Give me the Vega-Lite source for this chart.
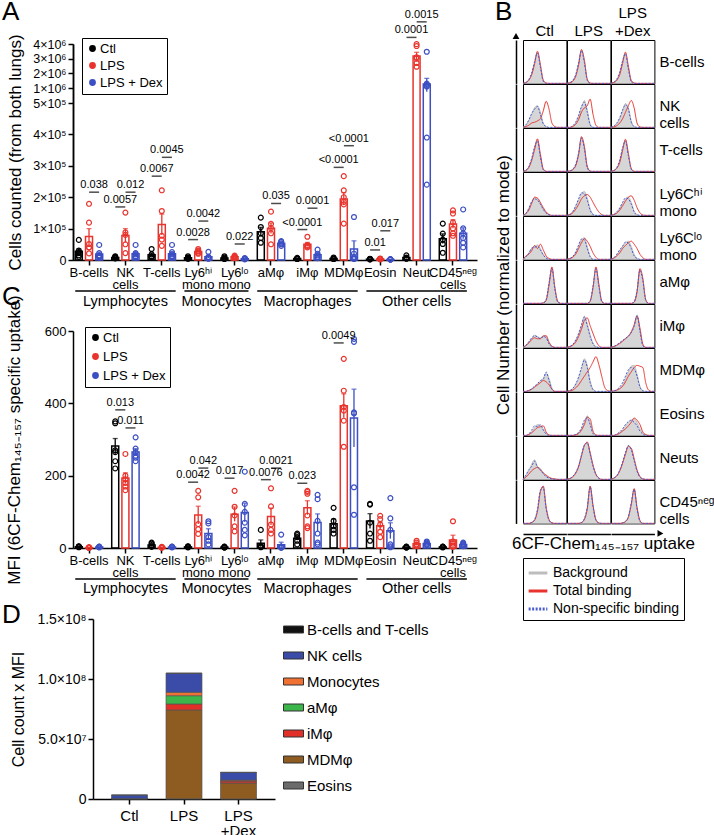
{
  "$schema": "https://vega.github.io/schema/vega-lite/v6.json",
  "padding": {"left": 2, "top": -2, "right": 0, "bottom": 0},
  "background": "white",
  "config": {
    "font": "Liberation Sans",
    "view": {"stroke": null},
    "axis": {"domainColor": "black", "domainWidth": 1.5, "tickColor": "black", "tickWidth": 1.5, "tickSize": 5, "labelColor": "black", "titleColor": "black", "grid": false, "labelFontSize": 13, "titleFontSize": 17, "titleFontWeight": "normal", "labelPadding": 2, "labelOverlap": false},
    "legend": {"labelColor": "black", "titleColor": "black"},
    "title": {"fontWeight": "normal", "fontSize": 26, "anchor": "start", "color": "black", "offset": 0},
    "header": {"labelColor": "black", "titleColor": "black", "titleFontWeight": "normal"},
    "text": {"color": "black"}
  },
  "datasets": {
    "countsA": [
      {"cell":"B-cells","grp":"Ctl","m":27700,"lo":19900,"hi":35500,"v":[64000,30000,22000,15000,10000,25000]},
      {"cell":"B-cells","grp":"LPS","m":75000,"lo":50000,"hi":100000,"v":[179000,119000,51000,40000,21000,40000]},
      {"cell":"B-cells","grp":"LPS + Dex","m":19000,"lo":13000,"hi":25000,"v":[48000,22000,15000,10000,8000,12000]},
      {"cell":"NK cells","grp":"Ctl","m":8200,"lo":6900,"hi":9500,"v":[12000,10000,8000,6000,5000]},
      {"cell":"NK cells","grp":"LPS","m":78000,"lo":56000,"hi":100000,"v":[151000,88000,80000,50000,22000]},
      {"cell":"NK cells","grp":"LPS + Dex","m":19700,"lo":13700,"hi":25700,"v":[48000,22000,18000,12000,10000,8000]},
      {"cell":"T-cells","grp":"Ctl","m":16600,"lo":11700,"hi":21500,"v":[35000,18000,12000,10000,8000]},
      {"cell":"T-cells","grp":"LPS","m":113000,"lo":80000,"hi":146000,"v":[222000,156000,77000,65000,45000]},
      {"cell":"T-cells","grp":"LPS + Dex","m":20200,"lo":14100,"hi":26300,"v":[48000,25000,18000,12000,10000,8000]},
      {"cell":"Ly6ʰⁱ mono","grp":"Ctl","m":7000,"lo":5600,"hi":8400,"v":[12000,8000,6000,5000,4000]},
      {"cell":"Ly6ʰⁱ mono","grp":"LPS","m":27000,"lo":24400,"hi":29600,"v":[35000,30000,27000,23000,20000]},
      {"cell":"Ly6ʰⁱ mono","grp":"LPS + Dex","m":10400,"lo":6400,"hi":14400,"v":[26000,10000,7000,5000,4000]},
      {"cell":"Ly6ˡᵒ mono","grp":"Ctl","m":6400,"lo":4800,"hi":8000,"v":[12000,8000,5000,4000,3000]},
      {"cell":"Ly6ˡᵒ mono","grp":"LPS","m":10000,"lo":8600,"hi":11400,"v":[14000,12000,10000,8000,6000]},
      {"cell":"Ly6ˡᵒ mono","grp":"LPS + Dex","m":4000,"lo":3300,"hi":4700,"v":[6000,5000,4000,3000,2000]},
      {"cell":"aMφ","grp":"Ctl","m":90000,"lo":76000,"hi":104000,"v":[135000,105000,85000,70000,55000]},
      {"cell":"aMφ","grp":"LPS","m":101000,"lo":84000,"hi":118000,"v":[154000,115000,102000,85000,50000]},
      {"cell":"aMφ","grp":"LPS + Dex","m":53000,"lo":50300,"hi":55700,"v":[60000,58000,53000,50000,45000]},
      {"cell":"iMφ","grp":"Ctl","m":4600,"lo":3900,"hi":5300,"v":[7000,5000,4000,4000,3000]},
      {"cell":"iMφ","grp":"LPS","m":49800,"lo":43600,"hi":56000,"v":[74000,48000,45000,42000,40000]},
      {"cell":"iMφ","grp":"LPS + Dex","m":16800,"lo":12100,"hi":21500,"v":[33000,20000,15000,10000,6000]},
      {"cell":"MDMφ","grp":"Ctl","m":4600,"lo":3700,"hi":5500,"v":[8000,5000,4000,3000,3000]},
      {"cell":"MDMφ","grp":"LPS","m":194500,"lo":174500,"hi":214500,"v":[267000,222000,200000,185000,177000,116000]},
      {"cell":"MDMφ","grp":"LPS + Dex","m":35000,"lo":9000,"hi":61000,"v":[137000,20000,10000,5000,3000]},
      {"cell":"Eosin","grp":"Ctl","m":2800,"lo":2400,"hi":3200,"v":[4000,3000,3000,2000,2000]},
      {"cell":"Eosin","grp":"LPS","m":3400,"lo":2900,"hi":3900,"v":[5000,4000,3000,3000,2000]},
      {"cell":"Eosin","grp":"LPS + Dex","m":1800,"lo":1400,"hi":2200,"v":[3000,2000,2000,1000,1000]},
      {"cell":"Neut","grp":"Ctl","m":7600,"lo":5600,"hi":9600,"v":[15000,8000,6000,5000,4000]},
      {"cell":"Neut","grp":"LPS","m":3183000,"lo":2933000,"hi":3433000,"v":[3990000,3860000,3100000,3000000,2700000,2450000]},
      {"cell":"Neut","grp":"LPS + Dex","m":1267000,"lo":877000,"hi":1657000,"v":[3470000,1300000,1220000,1150000,1100000,390000,240000]},
      {"cell":"CD45ⁿᵉᵍ cells","grp":"Ctl","m":67800,"lo":52300,"hi":83300,"v":[116000,84000,65000,51000,23000]},
      {"cell":"CD45ⁿᵉᵍ cells","grp":"LPS","m":114700,"lo":101200,"hi":128200,"v":[158000,148000,120000,100000,85000,77000]},
      {"cell":"CD45ⁿᵉᵍ cells","grp":"LPS + Dex","m":85300,"lo":67800,"hi":102800,"v":[161000,101000,85000,70000,55000,40000]}
    ],
    "annA": [
      {"cell":"B-cells","pair":"b","y":216000,"t":"0.038"},
      {"cell":"NK cells","pair":"a","y":169000,"t":"0.0057"},
      {"cell":"NK cells","pair":"b","y":216000,"t":"0.012"},
      {"cell":"T-cells","pair":"a","y":267000,"t":"0.0067"},
      {"cell":"T-cells","pair":"b","y":327000,"t":"0.0045"},
      {"cell":"Ly6ʰⁱ mono","pair":"a","y":65000,"t":"0.0028"},
      {"cell":"Ly6ʰⁱ mono","pair":"b","y":124000,"t":"0.0042"},
      {"cell":"Ly6ˡᵒ mono","pair":"b","y":51000,"t":"0.022"},
      {"cell":"aMφ","pair":"b","y":180000,"t":"0.035"},
      {"cell":"iMφ","pair":"a","y":97000,"t":"<0.0001"},
      {"cell":"iMφ","pair":"b","y":165000,"t":"0.0001"},
      {"cell":"MDMφ","pair":"a","y":295000,"t":"<0.0001"},
      {"cell":"MDMφ","pair":"b","y":364000,"t":"<0.0001"},
      {"cell":"Eosin","pair":"a","y":32000,"t":"0.01"},
      {"cell":"Eosin","pair":"b","y":93000,"t":"0.017"},
      {"cell":"Neut","pair":"a","y":4450000,"t":"0.0001"},
      {"cell":"Neut","pair":"b","y":5510000,"t":"0.0015"}
    ],
    "mfiC": [
      {"cell":"B-cells","grp":"Ctl","m":3.4,"lo":2.9,"hi":3.9,"v":[5,4,3,3,2]},
      {"cell":"B-cells","grp":"LPS","m":1.1,"lo":0.85,"hi":1.35,"v":[2,1,1,1,0.5]},
      {"cell":"B-cells","grp":"LPS + Dex","m":2.8,"lo":2.4,"hi":3.2,"v":[4,3,3,2,2]},
      {"cell":"NK cells","grp":"Ctl","m":281.7,"lo":260.7,"hi":302.7,"v":[350,345,270,265,240,220]},
      {"cell":"NK cells","grp":"LPS","m":193.3,"lo":178.7,"hi":207.9,"v":[260,200,190,180,170,160]},
      {"cell":"NK cells","grp":"LPS + Dex","m":265.2,"lo":255.6,"hi":274.8,"v":[306,275,265,255,250,240]},
      {"cell":"T-cells","grp":"Ctl","m":8.6,"lo":6.4,"hi":10.8,"v":[15,12,8,5,3]},
      {"cell":"T-cells","grp":"LPS","m":1.8,"lo":1.4,"hi":2.2,"v":[3,2,2,1,1]},
      {"cell":"T-cells","grp":"LPS + Dex","m":2.8,"lo":2.4,"hi":3.2,"v":[4,3,3,2,2]},
      {"cell":"Ly6ʰⁱ mono","grp":"Ctl","m":3.2,"lo":2.6,"hi":3.8,"v":[5,4,3,2,2]},
      {"cell":"Ly6ʰⁱ mono","grp":"LPS","m":91,"lo":66.5,"hi":115.5,"v":[158,140,66,52,39]},
      {"cell":"Ly6ʰⁱ mono","grp":"LPS + Dex","m":40.4,"lo":27.6,"hi":53.2,"v":[74,68,30,20,10]},
      {"cell":"Ly6ˡᵒ mono","grp":"Ctl","m":2.4,"lo":1.9,"hi":2.9,"v":[4,3,2,2,1]},
      {"cell":"Ly6ˡᵒ mono","grp":"LPS","m":93.6,"lo":73.6,"hi":113.6,"v":[158,114,90,60,46]},
      {"cell":"Ly6ˡᵒ mono","grp":"LPS + Dex","m":98,"lo":72,"hi":124,"v":[211,122,100,70,50,35]},
      {"cell":"aMφ","grp":"Ctl","m":13,"lo":3.7,"hi":22.3,"v":[50,6,4,3,2]},
      {"cell":"aMφ","grp":"LPS","m":87,"lo":63.5,"hi":110.5,"v":[165,115,65,50,40]},
      {"cell":"aMφ","grp":"LPS + Dex","m":9,"lo":2,"hi":16,"v":[37,4,2,1,1]},
      {"cell":"iMφ","grp":"Ctl","m":27.2,"lo":21.8,"hi":32.6,"v":[40,36,30,20,10]},
      {"cell":"iMφ","grp":"LPS","m":111.3,"lo":91.9,"hi":130.7,"v":[158,155,150,90,60,55]},
      {"cell":"iMφ","grp":"LPS + Dex","m":70.3,"lo":46.3,"hi":94.3,"v":[147,135,75,40,15,10]},
      {"cell":"MDMφ","grp":"Ctl","m":67.2,"lo":54.8,"hi":79.6,"v":[111,75,60,50,40]},
      {"cell":"MDMφ","grp":"LPS","m":393.3,"lo":360.3,"hi":426.3,"v":[523,435,390,380,352,280]},
      {"cell":"MDMφ","grp":"LPS + Dex","m":359.2,"lo":279.2,"hi":439.2,"v":[578,570,375,372,168,92]},
      {"cell":"Eosin","grp":"Ctl","m":74.4,"lo":53.8,"hi":95,"v":[122,120,70,40,20]},
      {"cell":"Eosin","grp":"LPS","m":61.8,"lo":51,"hi":72.6,"v":[89,80,65,45,30]},
      {"cell":"Eosin","grp":"LPS + Dex","m":47.8,"lo":25.9,"hi":69.7,"v":[138,82,50,10,5,2]},
      {"cell":"Neut","grp":"Ctl","m":2.4,"lo":1.9,"hi":2.9,"v":[4,3,2,2,1]},
      {"cell":"Neut","grp":"LPS","m":11.6,"lo":8.9,"hi":14.3,"v":[20,15,10,8,5]},
      {"cell":"Neut","grp":"LPS + Dex","m":12.6,"lo":10.8,"hi":14.4,"v":[18,15,12,10,8]},
      {"cell":"CD45ⁿᵉᵍ cells","grp":"Ctl","m":2.8,"lo":2.4,"hi":3.2,"v":[4,3,3,2,2]},
      {"cell":"CD45ⁿᵉᵍ cells","grp":"LPS","m":22.4,"lo":9.4,"hi":35.4,"v":[74,18,12,5,3]},
      {"cell":"CD45ⁿᵉᵍ cells","grp":"LPS + Dex","m":10,"lo":8.3,"hi":11.7,"v":[15,12,10,8,5]}
    ],
    "annC": [
      {"cell":"NK cells","pair":"a","y":382,"t":"0.013"},
      {"cell":"NK cells","pair":"b","y":332,"t":"0.011"},
      {"cell":"Ly6ʰⁱ mono","pair":"a","y":182,"t":"0.0042"},
      {"cell":"Ly6ʰⁱ mono","pair":"b","y":221,"t":"0.042"},
      {"cell":"Ly6ˡᵒ mono","pair":"a","y":193,"t":"0.017"},
      {"cell":"aMφ","pair":"a","y":189,"t":"0.0076"},
      {"cell":"aMφ","pair":"b","y":221,"t":"0.0021"},
      {"cell":"iMφ","pair":"a","y":179,"t":"0.023"},
      {"cell":"MDMφ","pair":"a","y":567,"t":"0.0049"}
    ],
    "groups": [
      {"g":"Lymphocytes","a":0,"b":2},
      {"g":"Monocytes","a":3,"b":4},
      {"g":"Macrophages","a":5,"b":7},
      {"g":"Other cells","a":8,"b":10}
    ],
    "stackD": [
      {"cond":"Ctl","cell":"Eosins","val":100000},
      {"cond":"Ctl","cell":"MDMφ","val":200000},
      {"cond":"Ctl","cell":"iMφ","val":50000},
      {"cond":"Ctl","cell":"aMφ","val":100000},
      {"cond":"Ctl","cell":"Monocytes","val":50000},
      {"cond":"Ctl","cell":"NK cells","val":2800000},
      {"cond":"Ctl","cell":"B-cells and T-cells","val":30000},
      {"cond":"LPS","cell":"Eosins","val":200000},
      {"cond":"LPS","cell":"MDMφ","val":74000000},
      {"cond":"LPS","cell":"iMφ","val":5000000},
      {"cond":"LPS","cell":"aMφ","val":6900000},
      {"cond":"LPS","cell":"Monocytes","val":2800000},
      {"cond":"LPS","cell":"NK cells","val":15800000},
      {"cond":"LPS","cell":"B-cells and T-cells","val":300000},
      {"cond":"LPS +Dex","cell":"Eosins","val":100000},
      {"cond":"LPS +Dex","cell":"MDMφ","val":13200000},
      {"cond":"LPS +Dex","cell":"iMφ","val":1700000},
      {"cond":"LPS +Dex","cell":"aMφ","val":300000},
      {"cond":"LPS +Dex","cell":"Monocytes","val":500000},
      {"cond":"LPS +Dex","cell":"NK cells","val":6300000},
      {"cond":"LPS +Dex","cell":"B-cells and T-cells","val":200000}
    ],
    "hist": [
      {"r":"B-cells","c":"Ctl","x":[0,1,2,3,4,5,6,7,8,9,10,11,12,13,14,15],"Background":[0,0.02,0.08,0.22,0.48,0.72,0.4,0.06,0,0,0,0,0,0,0,0],"Total binding":[0,0.02,0.07,0.2,0.45,0.74,0.44,0.08,0.01,0,0,0,0,0,0,0],"Non-specific binding":[0,0.02,0.09,0.24,0.5,0.7,0.38,0.05,0,0,0,0,0,0,0,0]},
      {"r":"B-cells","c":"LPS","x":[0,1,2,3,4,5,6,7,8,9,10,11,12,13,14,15],"Background":[0,0.02,0.06,0.18,0.45,0.76,0.5,0.08,0,0,0,0,0,0,0,0],"Total binding":[0,0.01,0.05,0.16,0.42,0.78,0.54,0.1,0.01,0,0,0,0,0,0,0],"Non-specific binding":[0,0.02,0.07,0.2,0.47,0.75,0.48,0.07,0,0,0,0,0,0,0,0]},
      {"r":"B-cells","c":"LPS +Dex","x":[0,1,2,3,4,5,6,7,8,9,10,11,12,13,14,15],"Background":[0,0.02,0.08,0.24,0.5,0.7,0.35,0.05,0,0,0,0,0,0,0,0],"Total binding":[0,0.02,0.07,0.2,0.46,0.72,0.4,0.07,0.01,0,0,0,0,0,0,0],"Non-specific binding":[0,0.03,0.1,0.26,0.52,0.68,0.33,0.04,0,0,0,0,0,0,0,0]},
      {"r":"NK cells","c":"Ctl","x":[0,1,2,3,4,5,6,7,8,9,10,11,12,13,14,15],"Background":[0,0.05,0.15,0.3,0.45,0.5,0.35,0.1,0.02,0,0,0,0,0,0,0],"Total binding":[0,0.02,0.05,0.1,0.12,0.15,0.2,0.38,0.6,0.42,0.1,0.02,0,0,0,0],"Non-specific binding":[0,0.06,0.17,0.32,0.42,0.48,0.3,0.08,0.02,0,0,0,0,0,0,0]},
      {"r":"NK cells","c":"LPS","x":[0,1,2,3,4,5,6,7,8,9,10,11,12,13,14,15],"Background":[0,0,0.03,0.1,0.25,0.45,0.62,0.4,0.08,0,0,0,0,0,0,0],"Total binding":[0,0,0.02,0.07,0.18,0.35,0.45,0.5,0.65,0.3,0.05,0,0,0,0,0],"Non-specific binding":[0,0,0.04,0.12,0.28,0.48,0.58,0.35,0.06,0,0,0,0,0,0,0]},
      {"r":"NK cells","c":"LPS +Dex","x":[0,1,2,3,4,5,6,7,8,9,10,11,12,13,14,15],"Background":[0,0.02,0.08,0.2,0.38,0.55,0.45,0.15,0.02,0,0,0,0,0,0,0],"Total binding":[0,0.01,0.04,0.1,0.2,0.35,0.5,0.62,0.45,0.1,0.01,0,0,0,0,0],"Non-specific binding":[0,0.03,0.1,0.22,0.4,0.52,0.42,0.12,0.02,0,0,0,0,0,0,0]},
      {"r":"T-cells","c":"Ctl","x":[0,1,2,3,4,5,6,7,8,9,10,11,12,13,14,15],"Background":[0,0.02,0.1,0.28,0.55,0.72,0.35,0.04,0,0,0,0,0,0,0,0],"Total binding":[0,0.02,0.09,0.25,0.5,0.75,0.4,0.06,0,0,0,0,0,0,0,0],"Non-specific binding":[0,0.03,0.11,0.3,0.56,0.7,0.33,0.04,0,0,0,0,0,0,0,0]},
      {"r":"T-cells","c":"LPS","x":[0,1,2,3,4,5,6,7,8,9,10,11,12,13,14,15],"Background":[0,0.01,0.05,0.15,0.4,0.78,0.55,0.1,0,0,0,0,0,0,0,0],"Total binding":[0,0.01,0.04,0.13,0.38,0.8,0.58,0.12,0.01,0,0,0,0,0,0,0],"Non-specific binding":[0,0.01,0.05,0.16,0.42,0.77,0.52,0.09,0,0,0,0,0,0,0,0]},
      {"r":"T-cells","c":"LPS +Dex","x":[0,1,2,3,4,5,6,7,8,9,10,11,12,13,14,15],"Background":[0,0.02,0.08,0.24,0.52,0.72,0.38,0.05,0,0,0,0,0,0,0,0],"Total binding":[0,0.02,0.07,0.2,0.48,0.74,0.42,0.07,0,0,0,0,0,0,0,0],"Non-specific binding":[0,0.02,0.09,0.26,0.54,0.7,0.36,0.05,0,0,0,0,0,0,0,0]},
      {"r":"Ly6Cʰⁱ mono","c":"Ctl","x":[0,1,2,3,4,5,6,7,8,9,10,11,12,13,14,15],"Background":[0,0.05,0.15,0.3,0.4,0.38,0.28,0.15,0.06,0.02,0,0,0,0,0,0],"Total binding":[0,0.04,0.12,0.28,0.42,0.4,0.3,0.18,0.08,0.02,0,0,0,0,0,0],"Non-specific binding":[0,0.05,0.16,0.32,0.38,0.35,0.26,0.14,0.05,0.01,0,0,0,0,0,0]},
      {"r":"Ly6Cʰⁱ mono","c":"LPS","x":[0,1,2,3,4,5,6,7,8,9,10,11,12,13,14,15],"Background":[0,0.02,0.08,0.2,0.35,0.5,0.55,0.4,0.15,0.03,0,0,0,0,0,0],"Total binding":[0,0.02,0.06,0.14,0.25,0.38,0.45,0.48,0.42,0.3,0.18,0.08,0.02,0,0,0],"Non-specific binding":[0,0.02,0.09,0.22,0.38,0.52,0.5,0.35,0.12,0.02,0,0,0,0,0,0]},
      {"r":"Ly6Cʰⁱ mono","c":"LPS +Dex","x":[0,1,2,3,4,5,6,7,8,9,10,11,12,13,14,15],"Background":[0,0.02,0.07,0.15,0.28,0.38,0.42,0.3,0.1,0.02,0,0,0,0,0,0],"Total binding":[0,0.02,0.05,0.12,0.22,0.33,0.42,0.45,0.35,0.18,0.06,0.01,0,0,0,0],"Non-specific binding":[0,0.02,0.08,0.17,0.3,0.4,0.38,0.26,0.08,0.01,0,0,0,0,0,0]},
      {"r":"Ly6Cˡᵒ mono","c":"Ctl","x":[0,1,2,3,4,5,6,7,8,9,10,11,12,13,14,15],"Background":[0,0.05,0.15,0.25,0.3,0.33,0.25,0.12,0.04,0,0,0,0,0,0,0],"Total binding":[0,0.08,0.12,0.2,0.32,0.25,0.35,0.22,0.08,0.02,0,0,0,0,0,0],"Non-specific binding":[0,0.06,0.14,0.26,0.28,0.3,0.22,0.1,0.03,0,0,0,0,0,0,0]},
      {"r":"Ly6Cˡᵒ mono","c":"LPS","x":[0,1,2,3,4,5,6,7,8,9,10,11,12,13,14,15],"Background":[0,0.02,0.06,0.15,0.3,0.45,0.5,0.3,0.08,0.01,0,0,0,0,0,0],"Total binding":[0,0.02,0.05,0.12,0.25,0.38,0.48,0.42,0.3,0.15,0.05,0,0,0,0,0],"Non-specific binding":[0,0.02,0.07,0.17,0.33,0.47,0.45,0.25,0.06,0,0,0,0,0,0,0]},
      {"r":"Ly6Cˡᵒ mono","c":"LPS +Dex","x":[0,1,2,3,4,5,6,7,8,9,10,11,12,13,14,15],"Background":[0,0.03,0.1,0.2,0.3,0.38,0.42,0.3,0.12,0.03,0,0,0,0,0,0],"Total binding":[0,0.03,0.08,0.15,0.25,0.32,0.38,0.42,0.35,0.25,0.12,0.04,0,0,0,0],"Non-specific binding":[0,0.04,0.12,0.22,0.3,0.4,0.38,0.25,0.08,0.02,0,0,0,0,0,0]},
      {"r":"aMφ","c":"Ctl","x":[0,1,2,3,4,5,6,7,8,9,10,11,12,13,14,15],"Background":[0,0,0,0,0,0,0,0.01,0.08,0.45,0.82,0.35,0.04,0,0,0],"Total binding":[0,0,0,0,0,0,0,0.01,0.07,0.42,0.84,0.38,0.05,0,0,0],"Non-specific binding":[0,0,0,0,0,0,0,0.01,0.09,0.47,0.8,0.33,0.03,0,0,0]},
      {"r":"aMφ","c":"LPS","x":[0,1,2,3,4,5,6,7,8,9,10,11,12,13,14,15],"Background":[0,0,0,0,0,0,0,0,0.05,0.38,0.82,0.42,0.05,0,0,0],"Total binding":[0,0,0,0,0,0,0,0,0.05,0.36,0.84,0.45,0.06,0,0,0],"Non-specific binding":[0,0,0,0,0,0,0,0,0.06,0.4,0.8,0.4,0.04,0,0,0]},
      {"r":"aMφ","c":"LPS +Dex","x":[0,1,2,3,4,5,6,7,8,9,10,11,12,13,14,15],"Background":[0,0,0,0,0,0,0,0,0.03,0.28,0.78,0.55,0.08,0,0,0],"Total binding":[0,0,0,0,0,0,0,0,0.03,0.26,0.8,0.58,0.09,0,0,0],"Non-specific binding":[0,0,0,0,0,0,0,0,0.04,0.3,0.76,0.52,0.07,0,0,0]},
      {"r":"iMφ","c":"Ctl","x":[0,1,2,3,4,5,6,7,8,9,10,11,12,13,14,15],"Background":[0,0.05,0.12,0.2,0.28,0.25,0.22,0.27,0.25,0.1,0.02,0,0,0,0,0],"Total binding":[0,0.04,0.1,0.18,0.22,0.2,0.2,0.26,0.27,0.12,0.03,0,0,0,0,0],"Non-specific binding":[0,0.05,0.13,0.22,0.27,0.24,0.2,0.25,0.22,0.08,0.01,0,0,0,0,0]},
      {"r":"iMφ","c":"LPS","x":[0,1,2,3,4,5,6,7,8,9,10,11,12,13,14,15],"Background":[0,0.02,0.06,0.15,0.3,0.5,0.72,0.55,0.3,0.1,0.02,0,0,0,0,0],"Total binding":[0,0.02,0.05,0.12,0.25,0.42,0.62,0.68,0.5,0.32,0.15,0.04,0,0,0,0],"Non-specific binding":[0,0.02,0.07,0.17,0.32,0.52,0.7,0.5,0.25,0.08,0.01,0,0,0,0,0]},
      {"r":"iMφ","c":"LPS +Dex","x":[0,1,2,3,4,5,6,7,8,9,10,11,12,13,14,15],"Background":[0,0.02,0.05,0.1,0.15,0.2,0.25,0.35,0.5,0.75,0.4,0.05,0,0,0,0],"Total binding":[0,0.02,0.05,0.09,0.14,0.2,0.26,0.36,0.52,0.72,0.45,0.08,0,0,0,0],"Non-specific binding":[0,0.02,0.06,0.11,0.16,0.21,0.26,0.34,0.48,0.73,0.38,0.04,0,0,0,0]},
      {"r":"MDMφ","c":"Ctl","x":[0,1,2,3,4,5,6,7,8,9,10,11,12,13,14,15],"Background":[0,0,0.02,0.05,0.1,0.15,0.22,0.3,0.42,0.3,0.08,0,0,0,0,0],"Total binding":[0,0,0.02,0.05,0.1,0.15,0.2,0.25,0.22,0.15,0.05,0,0,0,0,0],"Non-specific binding":[0,0,0.02,0.06,0.12,0.18,0.25,0.28,0.45,0.25,0.05,0,0,0,0,0]},
      {"r":"MDMφ","c":"LPS","x":[0,1,2,3,4,5,6,7,8,9,10,11,12,13,14,15],"Background":[0,0.02,0.06,0.15,0.3,0.5,0.75,0.6,0.25,0.05,0,0,0,0,0,0],"Total binding":[0,0.01,0.03,0.08,0.15,0.25,0.35,0.45,0.55,0.68,0.8,0.62,0.35,0.1,0.02,0],"Non-specific binding":[0,0.02,0.07,0.17,0.33,0.55,0.72,0.55,0.2,0.04,0,0,0,0,0,0]},
      {"r":"MDMφ","c":"LPS +Dex","x":[0,1,2,3,4,5,6,7,8,9,10,11,12,13,14,15],"Background":[0,0.01,0.03,0.08,0.15,0.3,0.45,0.58,0.6,0.4,0.12,0.02,0,0,0,0],"Total binding":[0,0.01,0.03,0.06,0.12,0.22,0.35,0.45,0.55,0.6,0.58,0.55,0.2,0.03,0,0],"Non-specific binding":[0,0.01,0.04,0.1,0.2,0.35,0.5,0.55,0.52,0.35,0.1,0.01,0,0,0,0]},
      {"r":"Eosins","c":"Ctl","x":[0,1,2,3,4,5,6,7,8,9,10,11,12,13,14,15],"Background":[0,0,0.02,0.08,0.18,0.25,0.22,0.15,0.05,0,0,0,0,0,0,0],"Total binding":[0,0,0.02,0.06,0.12,0.18,0.2,0.22,0.08,0.01,0,0,0,0,0,0],"Non-specific binding":[0,0,0.03,0.12,0.22,0.2,0.25,0.12,0.03,0,0,0,0,0,0,0]},
      {"r":"Eosins","c":"LPS","x":[0,1,2,3,4,5,6,7,8,9,10,11,12,13,14,15],"Background":[0,0,0,0.02,0.06,0.15,0.3,0.45,0.3,0.05,0,0,0,0,0,0],"Total binding":[0,0,0,0.01,0.04,0.12,0.25,0.42,0.38,0.1,0.01,0,0,0,0,0],"Non-specific binding":[0,0,0,0.02,0.07,0.17,0.35,0.4,0.25,0.04,0,0,0,0,0,0]},
      {"r":"Eosins","c":"LPS +Dex","x":[0,1,2,3,4,5,6,7,8,9,10,11,12,13,14,15],"Background":[0,0,0.02,0.06,0.12,0.22,0.3,0.35,0.38,0.3,0.15,0.05,0.01,0,0,0],"Total binding":[0,0,0.02,0.05,0.1,0.15,0.22,0.3,0.4,0.35,0.25,0.08,0.02,0,0,0],"Non-specific binding":[0,0,0.03,0.08,0.15,0.25,0.32,0.35,0.3,0.22,0.1,0.03,0,0,0,0]},
      {"r":"Neuts","c":"Ctl","x":[0,1,2,3,4,5,6,7,8,9,10,11,12,13,14,15],"Background":[0,0.08,0.2,0.35,0.45,0.3,0.25,0.15,0.08,0.05,0.02,0.01,0,0,0,0],"Total binding":[0,0.05,0.12,0.2,0.25,0.28,0.22,0.15,0.1,0.05,0.02,0.01,0,0,0,0],"Non-specific binding":[0,0.1,0.22,0.3,0.42,0.28,0.22,0.13,0.06,0.03,0.01,0,0,0,0,0]},
      {"r":"Neuts","c":"LPS","x":[0,1,2,3,4,5,6,7,8,9,10,11,12,13,14,15],"Background":[0,0.02,0.06,0.15,0.3,0.55,0.78,0.85,0.6,0.32,0.12,0.03,0,0,0,0],"Total binding":[0,0.02,0.06,0.14,0.29,0.54,0.78,0.86,0.62,0.33,0.12,0.03,0,0,0,0],"Non-specific binding":[0,0.02,0.07,0.16,0.31,0.56,0.79,0.84,0.58,0.3,0.11,0.03,0,0,0,0]},
      {"r":"Neuts","c":"LPS +Dex","x":[0,1,2,3,4,5,6,7,8,9,10,11,12,13,14,15],"Background":[0,0.03,0.08,0.2,0.38,0.6,0.78,0.7,0.45,0.2,0.06,0.01,0,0,0,0],"Total binding":[0,0.03,0.08,0.19,0.37,0.58,0.76,0.72,0.48,0.22,0.07,0.01,0,0,0,0],"Non-specific binding":[0,0.03,0.09,0.21,0.4,0.62,0.78,0.68,0.43,0.19,0.05,0.01,0,0,0,0]},
      {"r":"CD45ⁿᵉᵍ cells","c":"Ctl","x":[0,1,2,3,4,5,6,7,8,9,10,11,12,13,14,15],"Background":[0,0,0,0.02,0.08,0.3,0.75,0.85,0.35,0.08,0.01,0,0,0,0,0],"Total binding":[0,0,0,0.02,0.07,0.28,0.72,0.86,0.38,0.09,0.01,0,0,0,0,0],"Non-specific binding":[0,0,0,0.02,0.09,0.32,0.76,0.83,0.33,0.07,0.01,0,0,0,0,0]},
      {"r":"CD45ⁿᵉᵍ cells","c":"LPS","x":[0,1,2,3,4,5,6,7,8,9,10,11,12,13,14,15],"Background":[0,0,0,0,0,0.02,0.1,0.35,0.85,0.4,0.08,0.01,0,0,0,0],"Total binding":[0,0,0,0,0,0.02,0.09,0.33,0.86,0.42,0.09,0.01,0,0,0,0],"Non-specific binding":[0,0,0,0,0,0.02,0.11,0.37,0.84,0.38,0.07,0.01,0,0,0,0]},
      {"r":"CD45ⁿᵉᵍ cells","c":"LPS +Dex","x":[0,1,2,3,4,5,6,7,8,9,10,11,12,13,14,15],"Background":[0,0,0,0,0.01,0.04,0.15,0.45,0.8,0.35,0.06,0,0,0,0,0],"Total binding":[0,0,0,0,0.01,0.04,0.14,0.43,0.8,0.37,0.07,0,0,0,0,0],"Non-specific binding":[0,0,0,0,0.01,0.05,0.16,0.47,0.78,0.33,0.05,0,0,0,0,0]}
    ]
  },
  "concat": [
    {
      "vconcat": [
        {
          "title": {"text": "A", "dx": -71, "dy": 20, "frame": "group"},
          "width": 404,
          "height": 220,
          "layer": [
            {
              "layer": [
                {
                  "data": {"name": "countsA"},
                  "mark": {"type": "bar", "filled": false, "strokeWidth": 1.5, "width": 7},
                  "encoding": {
                    "x": {"field": "cell", "type": "nominal", "scale": {"domain": ["B-cells","NK cells","T-cells","Ly6ʰⁱ mono","Ly6ˡᵒ mono","aMφ","iMφ","MDMφ","Eosin","Neut","CD45ⁿᵉᵍ cells"], "paddingInner": 0.3, "paddingOuter": 0.2, "align": 0.225}, "axis": {"title": null, "labelAngle": 0, "labelExpr": "split(datum.label, ' ')", "labelFontSize": 13, "labelLineHeight": 12, "labelBaseline": "top", "labelPadding": 1}},
                    "xOffset": {"field": "grp", "type": "nominal", "scale": {"domain": ["Ctl","a","LPS","b","LPS + Dex"], "paddingInner": 0, "paddingOuter": 0}},
                    "y": {"field": "m", "type": "quantitative", "scale": {"domain": [0, 500000, 1000000, 4000000], "range": [220, 63, 48, 4], "nice": false, "zero": false}, "axis": {"orient": "left", "title": "Cells counted (from both lungs)", "values": [0,100000,200000,300000,400000,500000], "labelExpr": "datum.value == 0 ? '0' : (datum.value/100000) + '×10⁵'", "labelFontSize": 12.5, "titlePadding": 8, "labelFlush": false, "labelOverlap": false}},
                    "color": {"field": "grp", "type": "nominal", "scale": {"domain": ["Ctl","LPS","LPS + Dex"], "range": ["#000000","#e8342d","#3c4fc3"]}}
                  }
                },
                {
                  "data": {"name": "countsA"},
                  "mark": {"type": "rule", "strokeWidth": 1.3},
                  "encoding": {
                    "x": {"field": "cell", "type": "nominal"},
                    "xOffset": {"field": "grp", "type": "nominal"},
                    "y": {"field": "lo", "type": "quantitative"},
                    "y2": {"field": "hi"},
                    "color": {"field": "grp", "type": "nominal"}
                  }
                },
                {
                  "data": {"name": "countsA"},
                  "mark": {"type": "tick", "thickness": 1.3, "size": 5},
                  "encoding": {
                    "x": {"field": "cell", "type": "nominal"},
                    "xOffset": {"field": "grp", "type": "nominal"},
                    "y": {"field": "hi", "type": "quantitative"},
                    "color": {"field": "grp", "type": "nominal"}
                  }
                },
                {
                  "data": {"name": "countsA"},
                  "transform": [{"flatten": ["v"]}],
                  "mark": {"type": "point", "filled": false, "size": 24, "strokeWidth": 1.2, "opacity": 1},
                  "encoding": {
                    "x": {"field": "cell", "type": "nominal"},
                    "xOffset": {"field": "grp", "type": "nominal"},
                    "y": {"field": "v", "type": "quantitative"},
                    "color": {"field": "grp", "type": "nominal", "legend": {"title": null, "orient": "none", "legendX": 9, "legendY": -2, "strokeColor": "black", "padding": 4, "labelFontSize": 13, "symbolType": "circle", "symbolSize": 28, "symbolStrokeWidth": 1.5, "symbolFillColor": "white", "rowPadding": 3, "labelOffset": 1}}
                  }
                },
                {
                  "data": {"name": "annA"},
                  "mark": {"type": "tick", "thickness": 1.5, "size": 10, "color": "black"},
                  "encoding": {
                    "x": {"field": "cell", "type": "nominal"},
                    "xOffset": {"field": "pair", "type": "nominal"},
                    "y": {"field": "y", "type": "quantitative"}
                  }
                },
                {
                  "data": {"name": "annA"},
                  "mark": {"type": "text", "fontSize": 11, "baseline": "bottom", "dy": -2},
                  "encoding": {
                    "x": {"field": "cell", "type": "nominal"},
                    "xOffset": {"field": "pair", "type": "nominal"},
                    "y": {"field": "y", "type": "quantitative"},
                    "text": {"field": "t"}
                  }
                }
              ]
            },
            {
              "data": {"name": "groups"},
              "transform": [
                {"calculate": "datum.a - 0.38", "as": "x1"},
                {"calculate": "datum.b + 0.38", "as": "x2"},
                {"calculate": "(datum.a + datum.b) / 2", "as": "xm"}
              ],
              "layer": [
                {
                  "mark": {"type": "rule", "strokeWidth": 1.5, "yOffset": 31},
                  "encoding": {
                    "x": {"field": "x1", "type": "quantitative", "scale": {"domain": [-0.441, 10.658], "nice": false, "zero": false}, "axis": null},
                    "x2": {"field": "x2"},
                    "y": {"datum": 0, "type": "quantitative", "scale": {"domain": [0, 500000, 1000000, 4000000], "range": [220, 63, 48, 4], "nice": false, "zero": false}, "axis": {"orient": "left", "title": null, "values": [1000000,2000000,3000000,4000000], "labelExpr": "(datum.value/1000000) + '×10⁶'", "labelFontSize": 12.5, "labelFlush": false, "labelOverlap": false}}
                  }
                },
                {
                  "mark": {"type": "text", "fontSize": 14.5, "yOffset": 42, "baseline": "middle"},
                  "encoding": {
                    "x": {"field": "xm", "type": "quantitative"},
                    "y": {"datum": 0, "type": "quantitative"},
                    "text": {"field": "g"}
                  }
                }
              ]
            }
          ],
          "resolve": {"scale": {"x": "independent", "y": "independent"}, "axis": {"y": "independent"}}
        },
        {
          "title": {"text": "C", "dx": -71, "dy": 19, "frame": "group"},
          "width": 404,
          "height": 217,
          "layer": [
            {
              "layer": [
                {
                  "data": {"name": "mfiC"},
                  "mark": {"type": "bar", "filled": false, "strokeWidth": 1.5, "width": 7},
                  "encoding": {
                    "x": {"field": "cell", "type": "nominal", "scale": {"domain": ["B-cells","NK cells","T-cells","Ly6ʰⁱ mono","Ly6ˡᵒ mono","aMφ","iMφ","MDMφ","Eosin","Neut","CD45ⁿᵉᵍ cells"], "paddingInner": 0.3, "paddingOuter": 0.2, "align": 0.225}, "axis": {"title": null, "labelAngle": 0, "labelExpr": "split(datum.label, ' ')", "labelFontSize": 13, "labelLineHeight": 12, "labelBaseline": "top", "labelPadding": 1}},
                    "xOffset": {"field": "grp", "type": "nominal", "scale": {"domain": ["Ctl","a","LPS","b","LPS + Dex"], "paddingInner": 0, "paddingOuter": 0}},
                    "y": {"field": "m", "type": "quantitative", "scale": {"domain": [0, 600], "nice": false}, "axis": {"title": "MFI (6CF-Chem₁₄₅₋₁₅₇ specific uptake)", "values": [0,200,400,600], "titlePadding": 21, "labelFlush": false}},
                    "color": {"field": "grp", "type": "nominal", "scale": {"domain": ["Ctl","LPS","LPS + Dex"], "range": ["#000000","#e8342d","#3c4fc3"]}}
                  }
                },
                {
                  "data": {"name": "mfiC"},
                  "mark": {"type": "rule", "strokeWidth": 1.3},
                  "encoding": {
                    "x": {"field": "cell", "type": "nominal"},
                    "xOffset": {"field": "grp", "type": "nominal"},
                    "y": {"field": "lo", "type": "quantitative"},
                    "y2": {"field": "hi"},
                    "color": {"field": "grp", "type": "nominal"}
                  }
                },
                {
                  "data": {"name": "mfiC"},
                  "mark": {"type": "tick", "thickness": 1.3, "size": 5},
                  "encoding": {
                    "x": {"field": "cell", "type": "nominal"},
                    "xOffset": {"field": "grp", "type": "nominal"},
                    "y": {"field": "hi", "type": "quantitative"},
                    "color": {"field": "grp", "type": "nominal"}
                  }
                },
                {
                  "data": {"name": "mfiC"},
                  "transform": [{"flatten": ["v"]}],
                  "mark": {"type": "point", "filled": false, "size": 24, "strokeWidth": 1.2, "opacity": 1},
                  "encoding": {
                    "x": {"field": "cell", "type": "nominal"},
                    "xOffset": {"field": "grp", "type": "nominal"},
                    "y": {"field": "v", "type": "quantitative"},
                    "color": {"field": "grp", "type": "nominal", "legend": {"title": null, "orient": "none", "legendX": 12, "legendY": -4, "strokeColor": "black", "padding": 4, "labelFontSize": 13, "symbolType": "circle", "symbolSize": 28, "symbolStrokeWidth": 1.5, "symbolFillColor": "white", "rowPadding": 5, "labelOffset": 1}}
                  }
                },
                {
                  "data": {"name": "annC"},
                  "mark": {"type": "tick", "thickness": 1.5, "size": 10, "color": "black"},
                  "encoding": {
                    "x": {"field": "cell", "type": "nominal"},
                    "xOffset": {"field": "pair", "type": "nominal"},
                    "y": {"field": "y", "type": "quantitative"}
                  }
                },
                {
                  "data": {"name": "annC"},
                  "mark": {"type": "text", "fontSize": 11, "baseline": "bottom", "dy": -2},
                  "encoding": {
                    "x": {"field": "cell", "type": "nominal"},
                    "xOffset": {"field": "pair", "type": "nominal"},
                    "y": {"field": "y", "type": "quantitative"},
                    "text": {"field": "t"}
                  }
                }
              ]
            },
            {
              "data": {"name": "groups"},
              "transform": [
                {"calculate": "datum.a - 0.38", "as": "x1"},
                {"calculate": "datum.b + 0.38", "as": "x2"},
                {"calculate": "(datum.a + datum.b) / 2", "as": "xm"}
              ],
              "layer": [
                {
                  "mark": {"type": "rule", "strokeWidth": 1.5, "yOffset": 31},
                  "encoding": {
                    "x": {"field": "x1", "type": "quantitative", "scale": {"domain": [-0.441, 10.658], "nice": false, "zero": false}, "axis": null},
                    "x2": {"field": "x2"},
                    "y": {"datum": 0}
                  }
                },
                {
                  "mark": {"type": "text", "fontSize": 14.5, "yOffset": 41, "baseline": "middle"},
                  "encoding": {
                    "x": {"field": "xm", "type": "quantitative"},
                    "y": {"datum": 0},
                    "text": {"field": "g"}
                  }
                }
              ]
            }
          ],
          "resolve": {"scale": {"x": "independent"}}
        },
        {
          "title": {"text": "D", "dx": -71, "dy": 20, "frame": "group"},
          "data": {"name": "stackD"},
          "transform": [{"calculate": "indexof(['Eosins','MDMφ','iMφ','aMφ','Monocytes','NK cells','B-cells and T-cells'], datum.cell)", "as": "k"}],
          "width": 202,
          "height": 180,
          "mark": {"type": "bar", "stroke": "#555555", "strokeWidth": 0.7},
          "encoding": {
            "x": {"field": "cond", "type": "nominal", "scale": {"domain": ["Ctl","LPS","LPS +Dex"], "range": [20, 202], "paddingInner": 0.34, "paddingOuter": 0.34}, "axis": {"title": null, "labelAngle": 0, "labelExpr": "split(datum.label, ' ')", "labelFontSize": 15, "labelLineHeight": 15, "labelBaseline": "top", "labelPadding": 4}},
            "y": {"field": "val", "type": "quantitative", "stack": "zero", "scale": {"domain": [0, 150000000], "nice": false}, "axis": {"title": "Cell count x MFI", "offset": -20, "titleFontSize": 16, "values": [0, 50000000, 100000000, 150000000], "labelFontSize": 14, "labelExpr": "datum.value == 0 ? '0' : (datum.value < 100000000 ? format(datum.value/10000000, '.1f') + '×10⁷' : format(datum.value/100000000, '.1f') + '×10⁸')", "titlePadding": 10, "labelFlush": false}},
            "color": {"field": "cell", "type": "nominal", "scale": {"domain": ["B-cells and T-cells","NK cells","Monocytes","aMφ","iMφ","MDMφ","Eosins"], "range": ["#111111","#3a4ba8","#f07132","#3cb54a","#e03028","#8e5b21","#6b6b6b"]}, "legend": {"title": null, "orient": "right", "offset": 8, "labelFontSize": 15, "symbolType": "M-1,-0.35L1,-0.35L1,0.35L-1,0.35Z", "symbolSize": 400, "symbolStrokeColor": "#333333", "symbolStrokeWidth": 1, "rowPadding": 7, "labelOffset": 3}},
            "order": {"field": "k", "type": "quantitative"}
          }
        }
      ],
      "bounds": "flush",
      "spacing": 71,
      "resolve": {"scale": {"x": "independent", "y": "independent", "color": "independent", "xOffset": "independent"}, "legend": {"color": "independent"}, "axis": {"x": "independent", "y": "independent"}}
    },
    {
      "title": {"text": "B", "dx": 0, "dy": 23},
      "data": {"name": "hist"},
      "transform": [
        {"flatten": ["x", "Background", "Total binding", "Non-specific binding"]},
        {"fold": ["Background", "Total binding", "Non-specific binding"], "as": ["s", "y"]}
      ],
      "facet": {
        "row": {"field": "r", "type": "nominal", "sort": ["B-cells","NK cells","T-cells","Ly6Cʰⁱ mono","Ly6Cˡᵒ mono","aMφ","iMφ","MDMφ","Eosins","Neuts","CD45ⁿᵉᵍ cells"], "header": {"title": "Cell Number (normalized to mode)", "titleOrient": "left", "titleFontSize": 17, "titlePadding": -7, "labels": false}},
        "column": {"field": "c", "type": "nominal", "sort": ["Ctl","LPS","LPS +Dex"], "header": {"title": "6CF-Chem₁₄₅₋₁₅₇ uptake", "titleOrient": "bottom", "titleAnchor": "start", "titleFontSize": 17, "titlePadding": -8, "labelOrient": "top", "labelFontSize": 15, "labelExpr": "split(datum.value, ' ')", "labelLineHeight": 18, "labelPadding": 1}}
      },
      "bounds": "flush",
      "spacing": 0,
      "spec": {
        "width": 43.4,
        "height": 43.4,
        "view": {"stroke": "black", "strokeWidth": 1},
        "layer": [
          {
            "transform": [{"filter": "datum.s === 'Background'"}],
            "mark": {"type": "area", "color": "#d6d6d6", "interpolate": "monotone"},
            "encoding": {
              "x": {"field": "x", "type": "quantitative", "scale": {"domain": [0, 15], "nice": false, "zero": false}, "axis": {"title": null, "labels": false, "ticks": false, "offset": 10, "domainWidth": 1.5}},
              "y": {"field": "y", "type": "quantitative", "scale": {"domain": [0, 1], "nice": false}, "axis": {"title": null, "labels": false, "ticks": false, "offset": 7, "domainWidth": 1.5}}
            }
          },
          {
            "mark": {"type": "line", "strokeWidth": 1, "interpolate": "monotone"},
            "encoding": {
              "x": {"field": "x", "type": "quantitative"},
              "y": {"field": "y", "type": "quantitative"},
              "color": {"field": "s", "type": "nominal", "scale": {"domain": ["Background","Total binding","Non-specific binding"], "range": ["#bdbdbd","#e8342d","#4a5bd0"]}, "legend": {"title": null, "orient": "bottom", "direction": "vertical", "strokeColor": "black", "padding": 4, "labelFontSize": 14, "symbolType": "stroke", "symbolStrokeWidth": 3, "symbolSize": 350, "rowPadding": 0, "offset": 6}},
              "strokeDash": {"field": "s", "type": "nominal", "scale": {"domain": ["Background","Total binding","Non-specific binding"], "range": [[1,0],[1,0],[2,1.5]]}, "legend": {"title": null, "orient": "bottom", "direction": "vertical", "strokeColor": "black", "padding": 4, "labelFontSize": 14, "symbolType": "stroke", "symbolStrokeWidth": 3, "symbolSize": 350, "rowPadding": 0, "offset": 6}}
            }
          },
          {
            "transform": [
              {"filter": "datum.c === 'LPS +Dex' && datum.s === 'Background' && datum.x === 15"},
              {"calculate": "split(datum.r, ' ')", "as": "lab"}
            ],
            "mark": {"type": "text", "align": "left", "baseline": "middle", "fontSize": 15, "lineHeight": 17, "dx": 5},
            "encoding": {
              "x": {"datum": 15},
              "y": {"datum": 0.5},
              "text": {"field": "lab"}
            }
          },
          {
            "transform": [{"filter": "datum.r === 'B-cells' && datum.c === 'Ctl' && datum.s === 'Background' && datum.x === 0"}],
            "mark": {"type": "point", "shape": "triangle-up", "filled": true, "color": "black", "opacity": 1, "size": 45, "xOffset": -7, "yOffset": -4},
            "encoding": {
              "x": {"datum": 0},
              "y": {"datum": 1}
            }
          },
          {
            "transform": [{"filter": "datum.r === 'CD45ⁿᵉᵍ cells' && datum.c === 'LPS +Dex' && datum.s === 'Background' && datum.x === 15"}],
            "mark": {"type": "point", "shape": "triangle-right", "filled": true, "color": "black", "opacity": 1, "size": 45, "xOffset": 6, "yOffset": 10},
            "encoding": {
              "x": {"datum": 15},
              "y": {"datum": 0}
            }
          }
        ]
      }
    }
  ],
  "columns": 2,
  "align": "none",
  "spacing": 17,
  "resolve": {"scale": {"x": "independent", "y": "independent", "color": "independent", "xOffset": "independent", "strokeDash": "independent"}, "legend": {"color": "independent", "strokeDash": "independent"}, "axis": {"x": "independent", "y": "independent"}}
}
